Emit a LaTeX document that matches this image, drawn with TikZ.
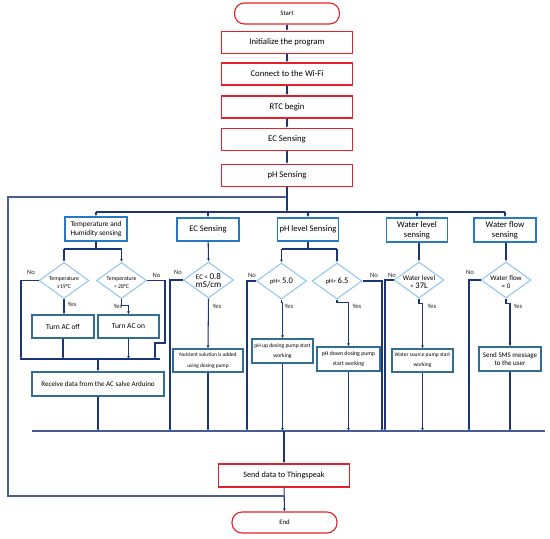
\documentclass[tikz,border=0pt]{standalone}
\usepackage{fontspec}
\setmainfont{Carlito}
\usetikzlibrary{shapes.geometric,arrows.meta}
\definecolor{redb}{RGB}{229,32,40}
\definecolor{blueb}{RGB}{40,120,200}
\definecolor{tealb}{RGB}{49,110,145}
\definecolor{diab}{RGB}{140,195,235}
\definecolor{navy}{RGB}{28,52,120}
\definecolor{loopc}{RGB}{72,92,150}
\begin{document}
\begin{tikzpicture}[x=1pt,y=-1pt,
  mainbox/.style={draw=redb, line width=1.1pt, fill=white, minimum width=131pt, minimum height=22pt, inner sep=1pt, font=\fontsize{8.7}{10}\selectfont},
  term/.style={draw=redb, line width=1.1pt, rounded corners=10pt, minimum width=105pt, minimum height=21pt, inner sep=1pt, font=\fontsize{6.8}{8}\selectfont},
  titlebox/.style={draw=blueb, line width=1.4pt, minimum width=62pt, minimum height=23pt, inner sep=1pt, align=center, font=\fontsize{8.6}{10}\selectfont},
  actbox/.style={draw=tealb, line width=1.1pt, inner sep=1pt, align=center, minimum width=61pt, minimum height=23pt},
  dia/.style={diamond, draw=diab, line width=1pt, inner sep=0pt, minimum width=50pt, minimum height=36pt},
  dtext/.style={align=center, inner sep=0pt, font=\fontsize{5.7}{8}\selectfont},
  conn/.style={draw=navy, line width=1.05pt},
  arr/.style={conn, -{Latex[length=3pt,width=2.8pt]}},
  loopline/.style={draw=loopc, line width=1.3pt},
  lbl/.style={font=\fontsize{6.6}{7}\selectfont, text=black!85, inner sep=0pt},
]
\useasboundingbox (0,0) rectangle (550,539);

% main column
\node[term] (start) at (287,13.5) {Start};
\node[mainbox] (init) at (287,42.5) {Initialize the program};
\node[mainbox] (wifi) at (287,74) {Connect to the Wi-Fi};
\node[mainbox] (rtc) at (287,107) {RTC begin};
\node[mainbox] (ecs) at (287,139.5) {EC Sensing};
\node[mainbox] (phs) at (287,175.5) {pH Sensing};
\draw[arr] (start) -- (init);
\draw[arr] (init) -- (wifi);
\draw[arr] (wifi) -- (rtc);
\draw[arr] (rtc) -- (ecs);
\draw[arr] (ecs) -- (phs);

% sensing titles
\node[titlebox, font=\fontsize{7.3}{9}\selectfont, minimum height=24pt] (th) at (96,229) {Temperature and\\Humidity sensing};
\node[titlebox] (ec) at (208,229.5) {EC Sensing};
\node[titlebox, minimum width=61pt] (ph) at (308,229.5) {pH level Sensing};
\node[titlebox, minimum height=24pt, minimum width=61pt] (wl) at (417,230) {Water level\\sensing};
\node[titlebox, minimum height=24pt] (wf) at (505,230) {Water flow\\sensing};

\coordinate (bt) at (287,212);
\coordinate (lpT) at (287,197);
\draw[arr] (phs) -- (bt);
\draw[conn] (th.north |- bt) -- (wf.north |- bt);
\foreach \n in {th,ec,ph,wl,wf} \draw[arr] (\n.north |- bt) -- (\n);

% temperature group
\node[dia] (d1) at (64,280.5) {};
\node[dtext] (d1t) at (64,282.5) {Temperature\\≤19°C};
\node[dia] (d2) at (121.5,280.5) {};
\node[dtext] (d2t) at (121.5,282.5) {Temperature\\> 28°C};
\coordinate (thb) at (96,249);
\draw[conn] (th) -- (thb);
\draw[conn] (d1.north |- thb) -- (d2.north |- thb);
\draw[arr] (d1.north |- thb) -- (d1.north);
\draw[arr] (d2.north |- thb) -- (d2.north);
\node[actbox, minimum width=62pt, font=\fontsize{7.5}{9}\selectfont] (acoff) at (63,326.5) {Turn AC off};
\node[actbox, font=\fontsize{7.5}{9}\selectfont] (acon) at (128.5,326.5) {Turn AC on};
\coordinate (tb) at (98,359);
\coordinate (tbL) at (20,359);
\coordinate (tbR) at (160,359);
\coordinate (d1n) at (21,359);
\coordinate (d2n) at (165,343);
\coordinate (d2m) at (155,359);
\draw[conn] (tbL) -- (tbR);
\draw[arr] (d1.west) -| (d1n);
\draw[arr] (d1.south) -- (d1.south |- acoff.north);
\draw[arr] (d2.south) -- ++(0,6.5) -| (acon.north);
\draw[arr] (d2.east) -| (d2n) -| (d2m);
\draw[arr] (acoff) -- (acoff |- tb);
\draw[arr] (acon) -- (acon |- tb);
\node[actbox, minimum width=132pt, minimum height=24pt, font=\fontsize{7.1}{9}\selectfont] (recv) at (98,384) {Receive data from the AC salve Arduino};
\draw[arr] (tb) -- (recv);
\node[lbl] (l1) at (31,272.5) {No};
\node[lbl] (l2) at (72,304.5) {Yes};
\node[lbl] (l3) at (156.5,275.5) {No};
\node[lbl] (l4) at (118,306) {Yes};

% bottom bus
\coordinate (bb) at (284,431);
\coordinate (bbL) at (32,431);
\coordinate (bbR) at (545,431);
\draw[loopline] (bbL) -- (bbR);
\draw[arr] (recv) -- (recv |- bb);

% EC group
\node[dia] (d3) at (208.5,280) {};
\node[dtext] (d3t) at (208.5,281) {\fontsize{7}{9}\selectfont EC < \fontsize{9}{10}\selectfont 0.8\\\fontsize{9}{10}\selectfont mS/cm};
\draw[arr] (ec) -- (d3.north);
\node[actbox, minimum width=70pt, font=\fontsize{5.4}{11}\selectfont] (nut) at (208,360.5) {Nutrient solution is added\\using dosing pump};
\draw[arr] (d3.south) -- (nut.north);
\coordinate (d3n) at (170,431);
\draw[arr] (d3.west) -| (d3n);
\draw[arr] (nut) -- (nut |- bb);
\node[lbl] (l5) at (178,272) {No};
\node[lbl] (l6) at (217,306) {Yes};

% pH group
\node[dia] (d4) at (281.5,281) {};
\node[dtext] (d4t) at (281.5,281) {\fontsize{6.5}{8}\selectfont pH< \fontsize{8.5}{10}\selectfont 5.0};
\node[dia] (d5) at (337,281) {};
\node[dtext] (d5t) at (337,281) {\fontsize{6.5}{8}\selectfont pH> \fontsize{8.5}{10}\selectfont 6.5};
\coordinate (phb) at (308,249);
\draw[conn] (ph) -- (phb);
\draw[conn] (d4.north |- phb) -- (d5.north |- phb);
\draw[arr] (d4.north |- phb) -- (d4.north);
\draw[arr] (d5.north |- phb) -- (d5.north);
\node[actbox, minimum height=24pt, font=\fontsize{5.6}{10}\selectfont] (phup) at (282.5,351) {pH up dosing pump start\\working};
\node[actbox, minimum width=63pt, minimum height=24pt, font=\fontsize{5.8}{10}\selectfont] (phdn) at (348.5,359) {pH down dosing pump\\start working};
\draw[arr] (d4.south) -- ++(0,3) -| (phup.north);
\draw[arr] (d5.south) -- ++(0,3) -| (phdn.north);
\coordinate (d4n) at (247,431);
\coordinate (d5n) at (382,431);
\draw[arr] (d4.west) -| (d4n);
\draw[arr] (d5.east) -| (d5n);
\draw[arr] (phup) -- (phup |- bb);
\draw[arr] (phdn) -- (phdn |- bb);
\node[lbl] (l7) at (252,275) {No};
\node[lbl] (l8) at (289,306) {Yes};
\node[lbl] (l9) at (374,275) {No};
\node[lbl] (l10) at (357,306) {Yes};

% water level group
\node[dia] (d6) at (419,280) {};
\node[dtext] (d6t) at (419,282) {\fontsize{7}{9}\selectfont Water level\\\fontsize{7}{9}\selectfont < \fontsize{8.5}{9}\selectfont 37L};
\draw[arr] (wl.south -| d6.north) -- (d6.north);
\node[actbox, font=\fontsize{5.5}{10}\selectfont] (wsrc) at (422.5,360.5) {Water source pump start\\working};
\draw[arr] (d6.south) -- ++(0,5) -| (wsrc.north);
\coordinate (d6n) at (385,431);
\draw[arr] (d6.west) -| (d6n);
\draw[arr] (wsrc) -- (wsrc |- bb);
\node[lbl] (l11) at (392,275) {No};
\node[lbl] (l12) at (432,306) {Yes};

% water flow group
\node[dia] (d7) at (506,280) {};
\node[dtext] (d7t) at (506,282) {\fontsize{7}{9}\selectfont Water flow\\\fontsize{7}{9}\selectfont = 0};
\draw[arr] (wf.south -| d7.north) -- (d7.north);
\node[actbox, minimum width=62pt, minimum height=24pt, font=\fontsize{7}{8.5}\selectfont] (sms) at (510,359) {Send SMS message\\to the user};
\draw[arr] (d7.south) -- ++(0,5) -| (sms.north);
\coordinate (d7n) at (469,431);
\draw[arr] (d7.west) -| (d7n);
\draw[arr] (sms) -- (sms |- bb);
\node[lbl] (l13) at (470,272) {No};
\node[lbl] (l14) at (518,306) {Yes};

% end part
\node[mainbox, font=\fontsize{8.2}{10}\selectfont, minimum height=23pt] (send) at (284,475.5) {Send data to Thingspeak};
\node[term] (end) at (284.5,522.5) {End};
\draw[arr] (bb) -- (send);
\draw[arr] (send) -- (end);
\coordinate (lpB) at (284,496);
\draw[loopline, -{Latex[length=3pt,width=2.8pt]}] (lpB) -- ++(-276,0) |- (lpT);
\end{tikzpicture}
\end{document}
